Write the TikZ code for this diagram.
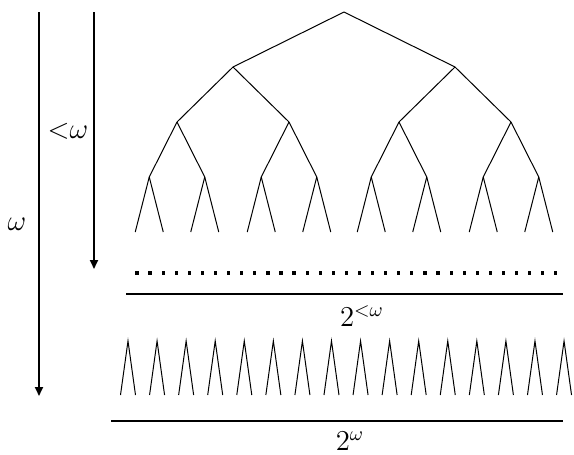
\documentclass[tikz,border=0pt]{standalone}
\usepackage{amsmath}
\usepackage{tikz}
\usetikzlibrary{arrows.meta}

\begin{document}
\begin{tikzpicture}[
    x=0.5pt, y=-0.5pt,
    >={Triangle[length=4.5pt, width=4pt]},
    every node/.style={font=\Large},
    branch/.style={line width=0.5pt},
    axis/.style={->, line width=0.9pt},
    rule/.style={line width=1.1pt},
    level distance=27.5pt,
    level 1/.style={sibling distance=111pt},
    level 2/.style={sibling distance=56pt},
    level 3/.style={sibling distance=27.75pt},
    level 4/.style={sibling distance=14pt},
    edge from parent/.style={draw, branch},
]
\useasboundingbox (0,0) rectangle (574,455);

% ---- Binary tree of height 4 ----
\coordinate (root) at (344,12)
  child foreach \a in {1,2} {coordinate
    child foreach \b in {1,2} {coordinate
      child foreach \c in {1,2} {coordinate
        child foreach \d in {1,2} {coordinate}}}};

% ---- Dots and 2^{<omega} ----
\foreach \i in {0,...,32}
  \fill ({137+13.09*\i-1.6},271.4) rectangle ++(3.2,3.2);
\coordinate (rule1l) at (126,294);
\coordinate (rule1r) at (563,294);
\draw[rule] (rule1l) -- (rule1r);
\node (finite) at (362,316) {$2^{<\omega}$};

% ---- Branches at level omega ----
\foreach \i in {0,...,15} {
  \pgfmathsetmacro\tx{128+29.07*\i}
  \coordinate (t\i) at (\tx,341);
  \draw[branch] (\tx-7.5,395) -- (t\i) -- (\tx+7.5,395);
}
\coordinate (rule2l) at (111,421);
\coordinate (rule2r) at (563,421);
\draw[rule] (rule2l) -- (rule2r);
\node[inner sep=0pt] (cantor) at (350,441) {$2^{\omega}$};

% ---- Height arrows ----
\coordinate (omtop) at (39,12);
\coordinate (ombot) at (39,396);
\draw[axis] (omtop) -- (ombot);
\node (om) at (17,224) {$\omega$};

\coordinate (fintop) at (94,12);
\coordinate (finbot) at (94,269);
\draw[axis] (fintop) -- (finbot);
\node (finom) at (68,131) {${<}\omega$};

\end{tikzpicture}
\end{document}
